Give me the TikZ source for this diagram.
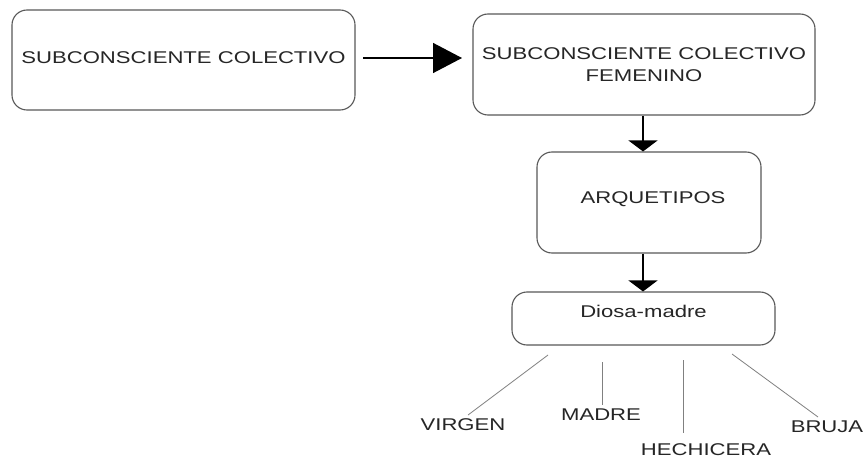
\documentclass[tikz,border=0pt]{standalone}
\usepackage{fontspec}
\setmainfont{Liberation Sans}[FakeStretch=1.3]
\usetikzlibrary{arrows.meta}
\begin{document}
\begin{tikzpicture}[x=1pt,y=-1pt,
  box/.style={draw=black!65,line width=1.1pt,rounded corners=15pt,fill=white,
    inner sep=0pt,align=center,text=black!85,font=\fontsize{17}{22}\selectfont},
  lbl/.style={inner sep=0pt,text=black!85,font=\fontsize{17}{22}\selectfont},
  bigarr/.style={line width=1.4pt,-{Triangle[length=29pt,width=30pt]}},
  downarr/.style={line width=1.4pt,-{Triangle[length=11pt,width=29pt]}},
  leg/.style={draw=black!50,line width=0.8pt}]
\useasboundingbox[fill=white] (0,0) rectangle (867,465);
\node[box,minimum width=343pt,minimum height=100pt,text depth=4pt] (b1) at (183.5,60) {SUBCONSCIENTE COLECTIVO};
\node[box,minimum width=342pt,minimum height=101pt] (b2) at (644,64.5) {SUBCONSCIENTE COLECTIVO\\FEMENINO};
\node[box,minimum width=224pt,minimum height=101pt,text depth=9pt] (b3) at (649,202.5) {\hspace{8pt}ARQUETIPOS};
\node[box,minimum width=263pt,minimum height=53pt,text depth=14pt] (b4) at (643.5,318.5) {Diosa-madre};
\draw[bigarr] (363,58) coordinate (a1) -- (462,58) coordinate (a2);
\draw[downarr] (b2.south) ++(-1,0) coordinate (d1) -- (d1 |- b3.north) ;
\draw[downarr] (d1 |- b3.south) coordinate (d2) -- (d2 |- b4.north);
\coordinate (v1) at (548,355); \coordinate (v2) at (468,415);
\coordinate (m1) at (602,362); \coordinate (m2) at (602,405);
\coordinate (h1) at (683,360); \coordinate (h2) at (683,433);
\coordinate (j1) at (732,354); \coordinate (j2) at (818,417);
\draw[leg] (v1) -- (v2);
\draw[leg] (m1) -- (m2);
\draw[leg] (h1) -- (h2);
\draw[leg] (j1) -- (j2);
\node[lbl] (virgen) at (463,425) {VIRGEN};
\node[lbl] (madre) at (601,415) {MADRE};
\node[lbl] (hech) at (706,450) {HECHICERA};
\node[lbl] (bruja) at (827,427) {BRUJA};
\end{tikzpicture}
\end{document}
